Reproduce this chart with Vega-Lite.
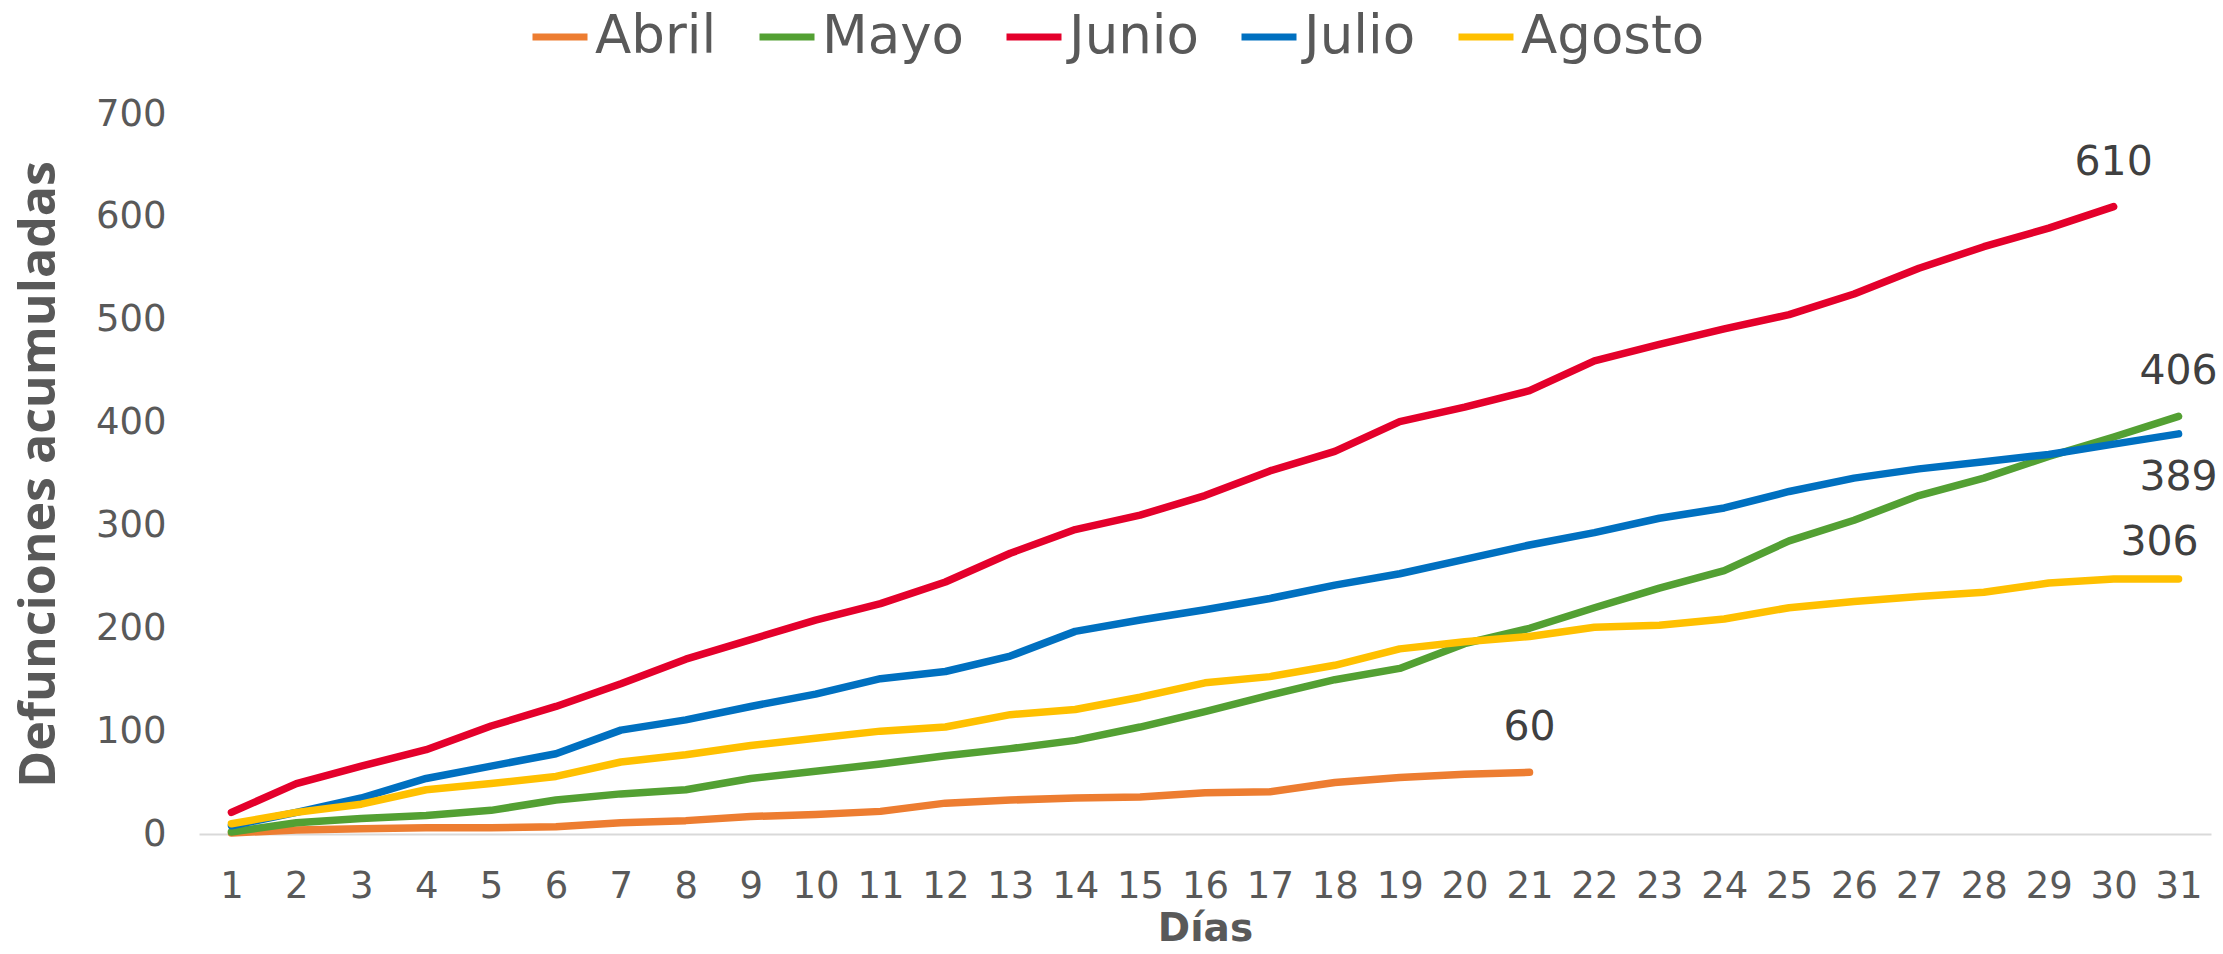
{
  "$schema": "https://vega.github.io/schema/vega-lite/v6.json",
  "width": 2012,
  "height": 720,
  "autosize": {"type": "none"},
  "padding": {"left": 199, "top": 114, "right": 12, "bottom": 120},
  "background": "white",
  "config": {"view": {"stroke": null}, "font": "DejaVu Sans"},
  "datasets": {
    "series": [
      {"mes":"Abril","dia":1,"valor":1},{"mes":"Abril","dia":2,"valor":4},{"mes":"Abril","dia":3,"valor":5},{"mes":"Abril","dia":4,"valor":6},{"mes":"Abril","dia":5,"valor":6},{"mes":"Abril","dia":6,"valor":7},{"mes":"Abril","dia":7,"valor":11},{"mes":"Abril","dia":8,"valor":13},{"mes":"Abril","dia":9,"valor":17},{"mes":"Abril","dia":10,"valor":19},{"mes":"Abril","dia":11,"valor":22},{"mes":"Abril","dia":12,"valor":30},{"mes":"Abril","dia":13,"valor":33},{"mes":"Abril","dia":14,"valor":35},{"mes":"Abril","dia":15,"valor":36},{"mes":"Abril","dia":16,"valor":40},{"mes":"Abril","dia":17,"valor":41},{"mes":"Abril","dia":18,"valor":50},{"mes":"Abril","dia":19,"valor":55},{"mes":"Abril","dia":20,"valor":58},{"mes":"Abril","dia":21,"valor":60},
      {"mes":"Mayo","dia":1,"valor":2},{"mes":"Mayo","dia":2,"valor":11},{"mes":"Mayo","dia":3,"valor":15},{"mes":"Mayo","dia":4,"valor":18},{"mes":"Mayo","dia":5,"valor":23},{"mes":"Mayo","dia":6,"valor":33},{"mes":"Mayo","dia":7,"valor":39},{"mes":"Mayo","dia":8,"valor":43},{"mes":"Mayo","dia":9,"valor":54},{"mes":"Mayo","dia":10,"valor":61},{"mes":"Mayo","dia":11,"valor":68},{"mes":"Mayo","dia":12,"valor":76},{"mes":"Mayo","dia":13,"valor":83},{"mes":"Mayo","dia":14,"valor":91},{"mes":"Mayo","dia":15,"valor":104},{"mes":"Mayo","dia":16,"valor":119},{"mes":"Mayo","dia":17,"valor":135},{"mes":"Mayo","dia":18,"valor":150},{"mes":"Mayo","dia":19,"valor":161},{"mes":"Mayo","dia":20,"valor":185},{"mes":"Mayo","dia":21,"valor":200},{"mes":"Mayo","dia":22,"valor":220},{"mes":"Mayo","dia":23,"valor":239},{"mes":"Mayo","dia":24,"valor":256},{"mes":"Mayo","dia":25,"valor":285},{"mes":"Mayo","dia":26,"valor":305},{"mes":"Mayo","dia":27,"valor":329},{"mes":"Mayo","dia":28,"valor":346},{"mes":"Mayo","dia":29,"valor":367},{"mes":"Mayo","dia":30,"valor":386},{"mes":"Mayo","dia":31,"valor":406},
      {"mes":"Junio","dia":1,"valor":21},{"mes":"Junio","dia":2,"valor":49},{"mes":"Junio","dia":3,"valor":66},{"mes":"Junio","dia":4,"valor":82},{"mes":"Junio","dia":5,"valor":105},{"mes":"Junio","dia":6,"valor":124},{"mes":"Junio","dia":7,"valor":146},{"mes":"Junio","dia":8,"valor":170},{"mes":"Junio","dia":9,"valor":189},{"mes":"Junio","dia":10,"valor":208},{"mes":"Junio","dia":11,"valor":224},{"mes":"Junio","dia":12,"valor":245},{"mes":"Junio","dia":13,"valor":273},{"mes":"Junio","dia":14,"valor":296},{"mes":"Junio","dia":15,"valor":310},{"mes":"Junio","dia":16,"valor":329},{"mes":"Junio","dia":17,"valor":353},{"mes":"Junio","dia":18,"valor":372},{"mes":"Junio","dia":19,"valor":401},{"mes":"Junio","dia":20,"valor":415},{"mes":"Junio","dia":21,"valor":431},{"mes":"Junio","dia":22,"valor":460},{"mes":"Junio","dia":23,"valor":476},{"mes":"Junio","dia":24,"valor":491},{"mes":"Junio","dia":25,"valor":505},{"mes":"Junio","dia":26,"valor":525},{"mes":"Junio","dia":27,"valor":550},{"mes":"Junio","dia":28,"valor":571},{"mes":"Junio","dia":29,"valor":589},{"mes":"Junio","dia":30,"valor":610},
      {"mes":"Julio","dia":1,"valor":8},{"mes":"Julio","dia":2,"valor":21},{"mes":"Julio","dia":3,"valor":35},{"mes":"Julio","dia":4,"valor":54},{"mes":"Julio","dia":5,"valor":66},{"mes":"Julio","dia":6,"valor":78},{"mes":"Julio","dia":7,"valor":101},{"mes":"Julio","dia":8,"valor":111},{"mes":"Julio","dia":9,"valor":124},{"mes":"Julio","dia":10,"valor":136},{"mes":"Julio","dia":11,"valor":151},{"mes":"Julio","dia":12,"valor":158},{"mes":"Julio","dia":13,"valor":173},{"mes":"Julio","dia":14,"valor":197},{"mes":"Julio","dia":15,"valor":208},{"mes":"Julio","dia":16,"valor":218},{"mes":"Julio","dia":17,"valor":229},{"mes":"Julio","dia":18,"valor":242},{"mes":"Julio","dia":19,"valor":253},{"mes":"Julio","dia":20,"valor":267},{"mes":"Julio","dia":21,"valor":281},{"mes":"Julio","dia":22,"valor":293},{"mes":"Julio","dia":23,"valor":307},{"mes":"Julio","dia":24,"valor":317},{"mes":"Julio","dia":25,"valor":333},{"mes":"Julio","dia":26,"valor":346},{"mes":"Julio","dia":27,"valor":355},{"mes":"Julio","dia":28,"valor":362},{"mes":"Julio","dia":29,"valor":369},{"mes":"Julio","dia":30,"valor":379},{"mes":"Julio","dia":31,"valor":389},
      {"mes":"Agosto","dia":1,"valor":10},{"mes":"Agosto","dia":2,"valor":21},{"mes":"Agosto","dia":3,"valor":29},{"mes":"Agosto","dia":4,"valor":43},{"mes":"Agosto","dia":5,"valor":49},{"mes":"Agosto","dia":6,"valor":56},{"mes":"Agosto","dia":7,"valor":70},{"mes":"Agosto","dia":8,"valor":77},{"mes":"Agosto","dia":9,"valor":86},{"mes":"Agosto","dia":10,"valor":93},{"mes":"Agosto","dia":11,"valor":100},{"mes":"Agosto","dia":12,"valor":104},{"mes":"Agosto","dia":13,"valor":116},{"mes":"Agosto","dia":14,"valor":121},{"mes":"Agosto","dia":15,"valor":133},{"mes":"Agosto","dia":16,"valor":147},{"mes":"Agosto","dia":17,"valor":153},{"mes":"Agosto","dia":18,"valor":164},{"mes":"Agosto","dia":19,"valor":180},{"mes":"Agosto","dia":20,"valor":187},{"mes":"Agosto","dia":21,"valor":192},{"mes":"Agosto","dia":22,"valor":201},{"mes":"Agosto","dia":23,"valor":203},{"mes":"Agosto","dia":24,"valor":209},{"mes":"Agosto","dia":25,"valor":220},{"mes":"Agosto","dia":26,"valor":226},{"mes":"Agosto","dia":27,"valor":231},{"mes":"Agosto","dia":28,"valor":235},{"mes":"Agosto","dia":29,"valor":244},{"mes":"Agosto","dia":30,"valor":248},{"mes":"Agosto","dia":31,"valor":248}
    ],
    "etiquetas": [
      {"mes":"Abril","dia":21,"valor":60,"texto":"60","pos":"arriba"},
      {"mes":"Mayo","dia":31,"valor":406,"texto":"406","pos":"arriba"},
      {"mes":"Junio","dia":30,"valor":610,"texto":"610","pos":"arriba"},
      {"mes":"Julio","dia":31,"valor":389,"texto":"389","pos":"abajo"},
      {"mes":"Agosto","dia":31,"valor":248,"texto":"306","pos":"arriba_izq"}
    ]
  },
  "layer": [
    {
      "data": {"name": "series"},
      "mark": {"type": "line", "strokeWidth": 7.5, "strokeCap": "round", "strokeJoin": "round"},
      "encoding": {
        "x": {
          "field": "dia", "type": "ordinal",
          "scale": {"type": "point", "padding": 0.5},
          "axis": {
            "title": "Días", "labelAngle": 0, "ticks": false, "tickSize": 0, "grid": false,
            "domainColor": "#D9D9D9", "domainWidth": 2,
            "labelFontSize": 37, "labelColor": "#595959", "labelPadding": 34, "labelFont": "DejaVu Sans",
            "titleFontSize": 39, "titleFontWeight": "bold", "titleColor": "#595959", "titleFont": "DejaVu Sans", "titlePadding": 5
          }
        },
        "y": {
          "field": "valor", "type": "quantitative",
          "scale": {"domain": [0, 700], "nice": false},
          "axis": {
            "title": "Defunciones acumuladas", "values": [0, 100, 200, 300, 400, 500, 600, 700],
            "domain": false, "ticks": false, "grid": false,
            "labelFontSize": 37, "labelColor": "#595959", "labelPadding": 33, "labelFont": "DejaVu Sans",
            "titleFontSize": 50, "titleFont": "Open Sans", "titleFontWeight": "bold", "titleColor": "#595959", "titlePadding": 31
          }
        },
        "color": {
          "field": "mes", "type": "nominal",
          "scale": {"domain": ["Abril", "Mayo", "Junio", "Julio", "Agosto"], "range": ["#ED7D31", "#53A033", "#E4002B", "#0070C0", "#FFC000"]},
          "legend": {
            "title": null, "orient": "none", "legendX": 330, "legendY": -108, "direction": "horizontal",
            "symbolType": "stroke", "symbolStrokeWidth": 7, "symbolSize": 3025,
            "labelFontSize": 53, "labelColor": "#595959", "labelFont": "DejaVu Sans", "labelOffset": 4, "labelLimit": 400, "columnPadding": 28
          }
        }
      }
    },
    {
      "data": {"name": "etiquetas"},
      "transform": [{"filter": "datum.pos == 'arriba'"}],
      "mark": {"type": "text", "dy": -44, "fontSize": 41, "font": "DejaVu Sans", "color": "#404040"},
      "encoding": {
        "x": {"field": "dia", "type": "ordinal"},
        "y": {"field": "valor", "type": "quantitative"},
        "text": {"field": "texto"}
      }
    },
    {
      "data": {"name": "etiquetas"},
      "transform": [{"filter": "datum.pos == 'abajo'"}],
      "mark": {"type": "text", "dy": 44, "fontSize": 41, "font": "DejaVu Sans", "color": "#404040"},
      "encoding": {
        "x": {"field": "dia", "type": "ordinal"},
        "y": {"field": "valor", "type": "quantitative"},
        "text": {"field": "texto"}
      }
    },
    {
      "data": {"name": "etiquetas"},
      "transform": [{"filter": "datum.pos == 'arriba_izq'"}],
      "mark": {"type": "text", "dy": -36, "dx": -19, "fontSize": 41, "font": "DejaVu Sans", "color": "#404040"},
      "encoding": {
        "x": {"field": "dia", "type": "ordinal"},
        "y": {"field": "valor", "type": "quantitative"},
        "text": {"field": "texto"}
      }
    }
  ]
}
